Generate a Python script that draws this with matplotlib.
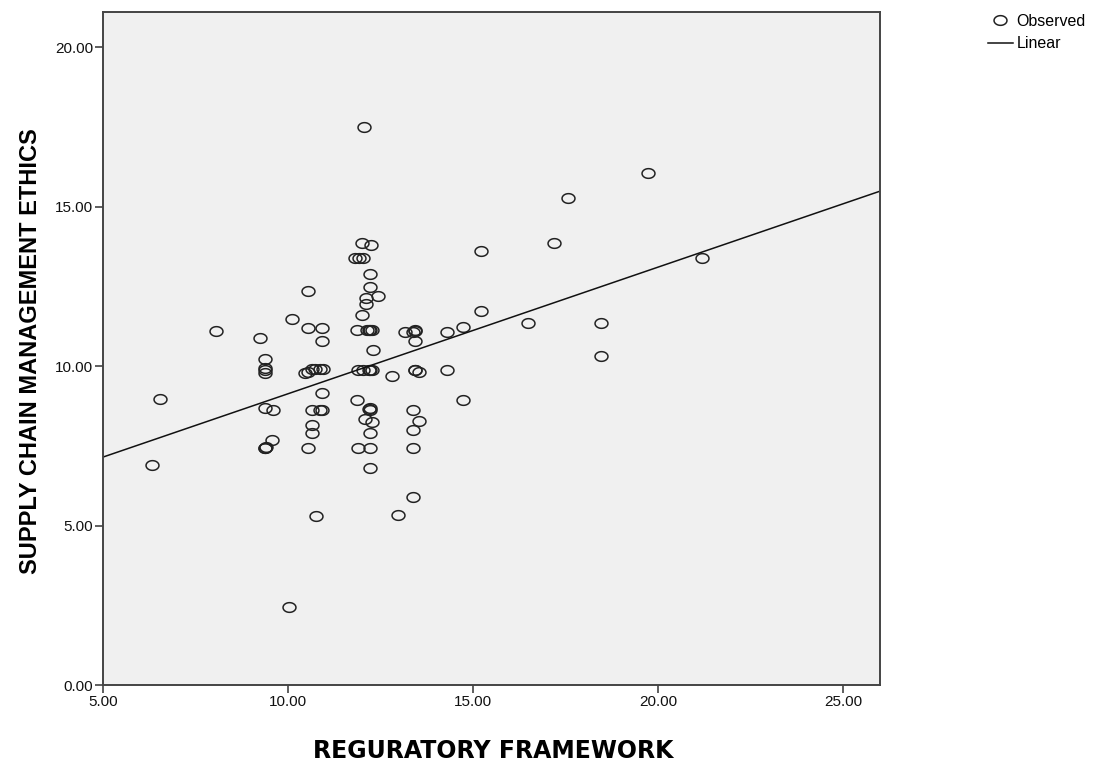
import numpy as np
import matplotlib
matplotlib.use("Agg")
import matplotlib.pyplot as plt
from matplotlib.path import Path

plt.rcParams["font.family"] = ["Liberation Sans", "DejaVu Sans"]

# Observed scores
regulatory = [
    12.06, 6.33, 6.54, 8.06, 9.25, 9.38, 9.38, 9.38, 9.38, 9.38, 9.60, 9.38, 9.38, 9.42, 9.57,
    10.11, 10.03, 10.55, 10.55, 10.93, 10.93, 10.47, 10.55, 10.66, 10.74, 10.87, 10.95, 10.93,
    10.66, 10.87, 10.93, 10.66, 10.66, 10.55, 10.76,
    12.01, 12.25, 11.82, 11.93, 12.04, 12.23, 12.23, 12.42, 12.12, 12.12, 12.01, 11.87, 12.14,
    12.23, 12.28, 12.20, 12.31, 11.90, 12.04, 12.23, 12.28, 12.18, 12.82, 11.87, 12.23, 12.23,
    12.20, 12.09, 12.28, 12.23, 11.90, 12.23, 12.23, 12.98,
    13.17, 13.39, 13.44, 13.42, 13.44, 13.44, 13.44, 13.53, 13.39, 13.53, 13.39, 13.39, 13.39,
    14.31, 14.72, 14.31, 14.72, 15.23, 15.23, 16.50, 17.18, 17.58, 18.45, 18.45, 19.72, 21.18,
]
ethics = [
    17.50, 6.89, 8.98, 11.10, 10.89, 10.23, 9.95, 9.86, 9.77, 8.67, 8.61, 7.42, 7.42, 7.45, 7.67,
    11.46, 2.44, 12.36, 11.19, 11.19, 10.80, 9.77, 9.80, 9.92, 9.92, 9.92, 9.92, 9.17,
    8.61, 8.61, 8.61, 8.14, 7.89, 7.42, 5.30,
    13.87, 13.80, 13.40, 13.40, 13.40, 12.90, 12.49, 12.19, 12.13, 11.96, 11.60, 11.13, 11.13,
    11.13, 11.13, 11.13, 10.49, 9.86, 9.86, 9.86, 9.86, 9.86, 9.70, 8.92, 8.61, 8.67,
    8.64, 8.33, 8.23, 7.89, 7.42, 7.42, 6.79, 5.32,
    11.08, 11.08, 11.13, 11.10, 10.80, 9.89, 9.86, 9.80, 8.61, 8.29, 7.98, 7.42, 5.88,
    11.08, 11.21, 9.89, 8.92, 11.74, 13.62, 11.35, 13.85, 15.27, 11.35, 10.30, 16.06, 13.40,
]

# linear fit line
fit_intercept = 5.16
fit_slope = 0.397

x_ticks = [5, 10, 15, 20, 25]
y_ticks = [0, 5, 10, 15, 20]

# slightly flattened circle marker
t = np.linspace(0, 2 * np.pi, 60)
ellipse = Path(np.column_stack([np.cos(t), 0.75 * np.sin(t)]), closed=True)

fig = plt.figure(figsize=(10.94, 7.67), dpi=100)
ax = fig.add_axes([0.0941, 0.1069, 0.7103, 0.8775])
ax.set_facecolor("#f0f0f0")

ax.plot(regulatory, ethics, linestyle="none", marker=ellipse, markersize=9.3,
        markerfacecolor="none", markeredgecolor="#222222", markeredgewidth=1.1,
        label="Observed")

xs = np.array([5, 26])
ax.plot(xs, fit_intercept + fit_slope * xs, color="#111111", lw=1.1, label="Linear")

ax.set_xlim(5, 26)
ax.set_ylim(0, 21.1)
ax.set_xticks(x_ticks)
ax.set_yticks(y_ticks)
ax.set_xticklabels([f"{v:.2f}" for v in x_ticks])
ax.set_yticklabels([f"{v:.2f}" for v in y_ticks])
ax.tick_params(direction="out", length=6, width=1.1, color="#333333",
               labelsize=11, labelcolor="#111111", pad=1)

for s in ax.spines.values():
    s.set_color("#444444")
    s.set_linewidth(1.4)

ax.set_xlabel("REGURATORY FRAMEWORK", fontsize=17, fontweight="bold",
              family=["DejaVu Sans"])
ax.xaxis.set_label_coords(0.502, -0.080)
ax.set_ylabel("SUPPLY CHAIN MANAGEMENT ETHICS", fontsize=17, fontweight="bold")
ax.yaxis.set_label_coords(-0.079, 0.4955)

leg = fig.legend(loc="upper left", bbox_to_anchor=(0.897, 0.99), frameon=False,
                 fontsize=11.5, handlelength=1.6, handletextpad=0.2, labelspacing=0.45,
                 borderaxespad=0.0)

fig.savefig("out.png", dpi=100)
